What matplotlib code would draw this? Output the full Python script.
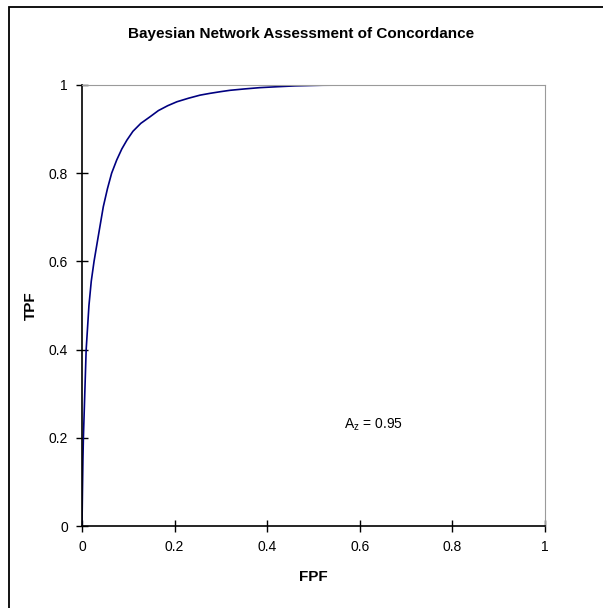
import matplotlib
matplotlib.use("Agg")
import matplotlib.pyplot as plt
from matplotlib.patches import Rectangle

# ROC curve points
fpf = [0.0, 0.001, 0.002, 0.003, 0.006, 0.009, 0.015, 0.020, 0.026, 0.034,
       0.046, 0.055, 0.064, 0.075, 0.086, 0.097, 0.110, 0.127, 0.147, 0.165,
       0.185, 0.205, 0.230, 0.255, 0.276, 0.300, 0.320, 0.350, 0.384, 0.420,
       0.460, 0.520, 0.600, 0.800, 1.0]
tpf = [0.0, 0.08, 0.15, 0.20, 0.30, 0.40, 0.50, 0.555, 0.60, 0.65,
       0.724, 0.765, 0.80, 0.83, 0.855, 0.875, 0.895, 0.913, 0.928, 0.942,
       0.953, 0.962, 0.970, 0.977, 0.981, 0.985, 0.988, 0.991, 0.994, 0.996,
       0.998, 0.9995, 1.0, 1.0, 1.0]
ticks = [0, 0.2, 0.4, 0.6, 0.8, 1]
tick_labels = ["0", "0.2", "0.4", "0.6", "0.8", "1"]

plt.rcParams['font.family'] = ['Liberation Sans', 'DejaVu Sans']

fig = plt.figure(figsize=(6.03, 6.08), dpi=100)
# outer chart frame (only left and top edges are visible in the reference)
fig.patches.append(Rectangle((8.5 / 603, -0.1), 1.2, (601.5 / 608) + 0.1,
                             transform=fig.transFigure, fill=False,
                             edgecolor='black', linewidth=1.3))

ax = fig.add_axes([82 / 603, 82 / 608, 463 / 603, 441 / 608])
ax.plot(fpf, tpf, color='#000080', linewidth=1.2)

ax.set_xlim(0, 1)
ax.set_ylim(0, 1)
ax.set_xticks(ticks)
ax.set_xticklabels(tick_labels)
ax.set_yticks(ticks)
ax.set_yticklabels(tick_labels)
ax.tick_params(direction='inout', length=8, width=1, labelsize=10, pad=6)

for side in ['top', 'right']:
    ax.spines[side].set_color('#9a9a9a')
for side in ['left', 'bottom']:
    ax.spines[side].set_color('black')
    ax.spines[side].set_linewidth(1.2)

ax.set_xlabel('FPF', fontsize=11, fontweight='bold')
ax.set_ylabel('TPF', fontsize=11, fontweight='bold')
ax.xaxis.set_label_coords(0.5, -0.1)
ax.yaxis.set_label_coords(-0.095, 0.5)
fig.text(0.5, 1 - 34 / 608, 'Bayesian Network Assessment of Concordance',
         ha='center', va='center', fontsize=11, fontweight='bold')

ax.text(0.565, 0.23, r'A$_\mathregular{z}$ = 0.95', fontsize=10,
        ha='left', va='center')

fig.savefig('out.png', dpi=100)
